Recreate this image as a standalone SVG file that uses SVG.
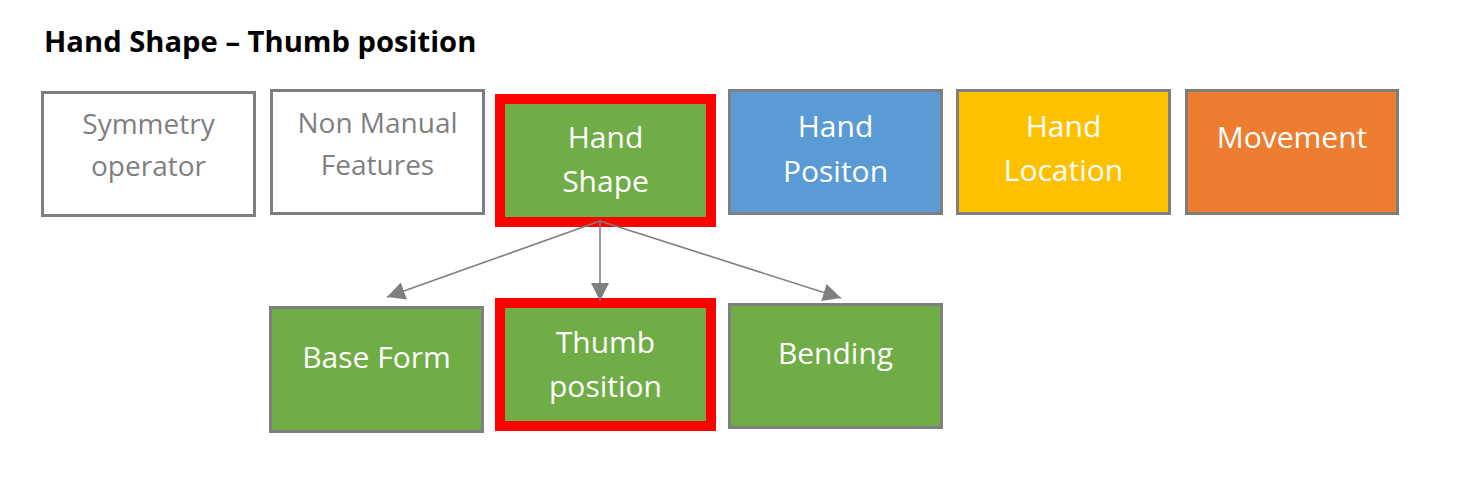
<svg xmlns="http://www.w3.org/2000/svg" width="1470" height="482" viewBox="0 0 1470 482">
<defs>
<marker id="ah" markerUnits="userSpaceOnUse" markerWidth="19" markerHeight="18" refX="18" refY="9" orient="auto">
<path d="M0,0 L18,9 L0,18 Z" fill="#7f7f7f"/>
</marker>
<style>
.t{font-family:"Open Sans","Noto Sans",sans-serif;font-size:30px;text-anchor:middle}
.w{fill:#ffffff}
.g{fill:#7f7f7f;font-size:28px}
.box{stroke:#7f7f7f;stroke-width:3}
.hl{stroke:#ff0000;stroke-width:10;fill:#70ad47}
.c{stroke:#7f7f7f;stroke-width:1.6;fill:none}
</style>
</defs>
<rect width="1470" height="482" fill="#ffffff"/>
<text x="44" y="52" font-family="'Open Sans','Noto Sans',sans-serif" font-weight="bold" font-size="29.2" fill="#000000">Hand Shape – Thumb position</text>
<g id="symmetry">
<rect class="box" x="42.5" y="92.5" width="212" height="123" fill="#ffffff"/>
<text class="t g" x="148.5" y="134">Symmetry</text>
<text class="t g" x="148.5" y="176">operator</text>
</g>
<g id="nonmanual">
<rect class="box" x="271.5" y="90.5" width="212" height="123" fill="#ffffff"/>
<text class="t g" x="377.5" y="133">Non Manual</text>
<text class="t g" x="377.5" y="175">Features</text>
</g>
<g id="handshape">
<rect class="hl" x="500" y="99" width="211" height="123"/>
<text class="t w" x="605.5" y="148">Hand</text>
<text class="t w" x="605.5" y="192">Shape</text>
</g>
<g id="handposition">
<rect class="box" x="729.5" y="90.5" width="212" height="123" fill="#5b9bd5"/>
<text class="t w" x="835.5" y="137">Hand</text>
<text class="t w" x="835.5" y="182">Positon</text>
</g>
<g id="handlocation">
<rect class="box" x="957.5" y="90.5" width="212" height="123" fill="#ffc000"/>
<text class="t w" x="1063.5" y="137">Hand</text>
<text class="t w" x="1063.5" y="181">Location</text>
</g>
<g id="movement">
<rect class="box" x="1186.5" y="90.5" width="211" height="123" fill="#ed7d31"/>
<text class="t w" x="1292" y="148">Movement</text>
</g>
<g id="baseform">
<rect class="box" x="270.5" y="307.5" width="212" height="124" fill="#70ad47"/>
<text class="t w" x="376.5" y="368">Base Form</text>
</g>
<g id="thumbposition">
<rect class="hl" x="500" y="303" width="211" height="123"/>
<text class="t w" x="605.5" y="353">Thumb</text>
<text class="t w" x="605.5" y="397">position</text>
</g>
<g id="bending">
<rect class="box" x="729.5" y="304.5" width="212" height="123" fill="#70ad47"/>
<text class="t w" x="835.5" y="364">Bending</text>
</g>
<g id="connectors">
<line class="c" x1="600" y1="221" x2="387" y2="297" marker-end="url(#ah)"/>
<line class="c" x1="600" y1="221" x2="600" y2="301" marker-end="url(#ah)"/>
<line class="c" x1="600" y1="221" x2="841" y2="298" marker-end="url(#ah)"/>
</g>
</svg>
